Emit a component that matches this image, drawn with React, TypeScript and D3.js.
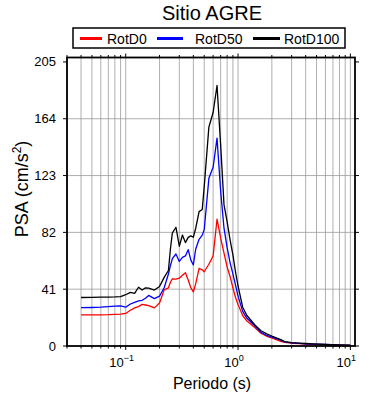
import React from "react";
import * as d3 from "d3";

// Period (s) and pseudo-spectral acceleration (cm/s^2)
const periods = [
  0.04, 0.05, 0.06, 0.07, 0.08, 0.09, 0.1, 0.11, 0.12, 0.13, 0.14, 0.15, 0.16,
  0.18, 0.2, 0.22, 0.24, 0.25, 0.26, 0.28, 0.3, 0.32, 0.34, 0.36, 0.38, 0.4,
  0.42, 0.45, 0.48, 0.5, 0.55, 0.6, 0.65, 0.7, 0.75, 0.8, 0.85, 0.9, 0.95, 1.0,
  1.1, 1.2, 1.4, 1.6, 1.8, 2.0, 2.4, 2.6, 3.0, 3.5, 4.0, 5.0, 6.0, 8.0, 10.0,
];

const rotD0 = [
  22.4, 22.4, 22.5, 22.6, 22.8, 23.0, 23.5, 25.8, 27.5, 28.4, 30.0, 29.6, 29.2,
  27.5, 31.0, 40.5, 42.0, 46.0, 48.4, 48.2, 48.9, 51.0, 52.9, 47.6, 42.0, 39.0,
  45.0, 56.0, 55.0, 53.6, 59.0, 65.0, 91.5, 78.0, 67.0, 57.0, 50.0, 42.0, 35.0,
  30.0, 22.0, 18.0, 13.5, 9.2, 7.0, 5.8, 3.4, 2.6, 2.0, 1.7, 1.4, 1.1, 0.9, 0.6,
  0.4,
];

const rotD50 = [
  27.7, 27.8, 28.0, 28.4, 28.8, 28.9, 28.0, 30.3, 31.5, 32.5, 33.0, 34.5, 36.5,
  34.2, 36.0, 42.0, 52.0, 58.0, 63.0, 66.4, 61.0, 64.0, 65.0, 69.5, 62.0, 58.5,
  70.0, 77.0, 80.0, 84.0, 121.0, 129.0, 150.0, 112.0, 85.0, 71.0, 60.0, 52.0,
  44.0, 36.0, 25.0, 20.0, 14.8, 9.8, 7.6, 6.4, 4.2, 3.0, 2.3, 1.9, 1.6, 1.3,
  1.1, 0.7, 0.5,
];

const rotD100 = [
  35.0, 35.1, 35.2, 35.3, 35.4, 35.6, 37.0, 38.7, 38.0, 42.4, 40.4, 42.0, 41.8,
  40.4, 43.0, 49.5, 54.5, 70.0, 81.5, 85.7, 72.0, 80.1, 74.6, 78.4, 79.5, 78.5,
  85.0, 97.0, 98.5, 115.0, 158.0, 168.5, 188.0, 145.0, 102.0, 89.5, 76.5, 65.7,
  53.4, 43.3, 28.0, 22.0, 15.5, 11.0, 8.8, 7.2, 4.6, 3.2, 2.5, 2.1, 1.8, 1.4,
  1.2, 0.8, 0.6,
];

const seriesNames = ["RotD0", "RotD50", "RotD100"];
const seriesColors = ["#ff0000", "#0000ff", "#000000"];
const yTicks = [0, 41, 82, 123, 164, 205];
const xMajor = [0.1, 1, 10];
const xMajorExp = ["\u22121", "0", "1"];

const W = 390;
const H = 400;
const font = "'Liberation Sans', Arial, sans-serif";

export default function App() {
  const left = 67;
  const right = 355;
  const top = 57.5;
  const bottom = 346;

  const x = d3.scaleLog().domain([0.03, 11]).range([left, right]);
  const y = d3.scaleLinear().domain([0, 208.2]).range([bottom, top]);

  // every 1..9 × decade inside the domain
  const minor: number[] = [];
  [0.01, 0.1, 1, 10].forEach((d) => {
    for (let k = 1; k <= 9; k++) {
      const v = d * k;
      if (v >= 0.03 && v <= 11) minor.push(v);
    }
  });

  const line = d3
    .line<number>()
    .x((_, i) => x(periods[i]))
    .y((d) => y(d));

  const allSeries = [rotD0, rotD50, rotD100];

  const legendItems = [
    { x0: 80, x1: 102, tx: 107 },
    { x0: 157, x1: 183, tx: 195 },
    { x0: 253, x1: 280, tx: 284 },
  ];

  return (
    <svg
      width={W}
      height={H}
      style={{ position: "absolute", left: 0, top: 0, background: "#fff" }}
      fontFamily={font}
    >
      <rect width={W} height={H} fill="#fff" />

      {/* title */}
      <text x={212} y={20} fontSize={20} textAnchor="middle">
        Sitio AGRE
      </text>

      {/* legend */}
      <rect
        x={73}
        y={28}
        width={272}
        height={20}
        fill="#fff"
        stroke="#000"
        strokeWidth={1.5}
      />
      {legendItems.map((it, i) => (
        <g key={seriesNames[i]}>
          <line
            x1={it.x0}
            x2={it.x1}
            y1={38.5}
            y2={38.5}
            stroke={seriesColors[i]}
            strokeWidth={3}
          />
          <text x={it.tx} y={43.5} fontSize={14}>
            {seriesNames[i]}
          </text>
        </g>
      ))}

      {/* grid */}
      {minor.map((v) => (
        <line
          key={"gx" + v}
          x1={x(v)}
          x2={x(v)}
          y1={top}
          y2={bottom}
          stroke="#9a9a9a"
          strokeWidth={0.8}
        />
      ))}
      {yTicks
        .filter((t) => t > 0 && t < 205)
        .map((t) => (
          <line
            key={"gy" + t}
            x1={left}
            x2={right}
            y1={y(t)}
            y2={y(t)}
            stroke="#9a9a9a"
            strokeWidth={0.8}
          />
        ))}

      {/* curves */}
      {allSeries.map((s, i) => (
        <path
          key={seriesNames[i]}
          d={line(s) ?? ""}
          fill="none"
          stroke={seriesColors[i]}
          strokeWidth={1.3}
          strokeLinejoin="round"
        />
      ))}

      {/* ticks */}
      {minor.map((v) => {
        const major = xMajor.some((m) => Math.abs(m - v) < 1e-9);
        const len = major ? 4 : 2.5;
        return (
          <g key={"tx" + v} stroke="#000" strokeWidth={1}>
            <line x1={x(v)} x2={x(v)} y1={bottom} y2={bottom + len} />
            <line x1={x(v)} x2={x(v)} y1={top} y2={top - len} />
          </g>
        );
      })}
      {yTicks.map((t) => (
        <g key={"ty" + t} stroke="#000" strokeWidth={1}>
          <line x1={left - 4} x2={left} y1={y(t)} y2={y(t)} />
          <line x1={right} x2={right + 4} y1={y(t)} y2={y(t)} />
        </g>
      ))}

      {/* frame */}
      <rect
        x={left}
        y={top}
        width={right - left}
        height={bottom - top}
        fill="none"
        stroke="#000"
        strokeWidth={1.8}
      />

      {/* y tick labels */}
      {yTicks.map((t) => (
        <text
          key={"ly" + t}
          x={56}
          y={y(t)}
          dy="0.35em"
          fontSize={13}
          textAnchor="end"
        >
          {t}
        </text>
      ))}

      {/* x tick labels */}
      {xMajor.map((m, i) => (
        <text key={"lx" + m} x={x(m) - 4} y={367} fontSize={13} textAnchor="middle">
          10
          <tspan dy={-6} fontSize={9}>
            {xMajorExp[i]}
          </tspan>
        </text>
      ))}

      {/* axis labels */}
      <text x={212} y={389} fontSize={16} textAnchor="middle">
        Periodo (s)
      </text>
      <text
        transform="translate(28,189) rotate(-90)"
        fontSize={18}
        textAnchor="middle"
      >
        PSA (cm/s
        <tspan dy={-7} fontSize={12}>
          2
        </tspan>
        <tspan dy={7}>)</tspan>
      </text>
    </svg>
  );
}
